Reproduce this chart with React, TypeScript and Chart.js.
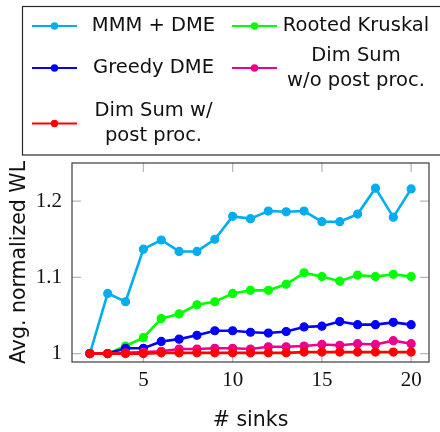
import React, { useEffect, useRef } from "react";
import { Chart, registerables } from "chart.js";

Chart.register(...registerables);

// ---- data ----
const sinks = [2, 3, 4, 5, 6, 7, 8, 9, 10, 11, 12, 13, 14, 15, 16, 17, 18, 19, 20];
const mmmDme = [1.0, 1.079, 1.068, 1.137, 1.149, 1.134, 1.134, 1.15, 1.18, 1.177, 1.187, 1.186, 1.187, 1.173, 1.173, 1.183, 1.217, 1.179, 1.216];
const rootedKruskal = [1.0, 1.0, 1.01, 1.021, 1.046, 1.052, 1.064, 1.068, 1.079, 1.083, 1.083, 1.091, 1.106, 1.101, 1.095, 1.103, 1.101, 1.104, 1.101];
const greedyDme = [1.0, 1.0, 1.007, 1.007, 1.016, 1.019, 1.024, 1.03, 1.03, 1.028, 1.027, 1.029, 1.035, 1.036, 1.042, 1.038, 1.038, 1.041, 1.038];
const dimSumWithoutPost = [1.0, 1.0, 1.001, 1.002, 1.003, 1.006, 1.006, 1.007, 1.007, 1.006, 1.009, 1.009, 1.01, 1.012, 1.011, 1.013, 1.012, 1.017, 1.013];
const dimSumWithPost = [1.0, 1.0, 1.0, 1.0, 1.001, 1.001, 1.001, 1.001, 1.001, 1.001, 1.001, 1.001, 1.002, 1.002, 1.002, 1.002, 1.002, 1.002, 1.002];

const seriesValues = [mmmDme, rootedKruskal, greedyDme, dimSumWithoutPost, dimSumWithPost];
const seriesNames = [
  ["MMM + DME"],
  ["Rooted Kruskal"],
  ["Greedy DME"],
  ["Dim Sum", "w/o post proc."],
  ["Dim Sum w/", "post proc."],
];
const seriesColors = ["rgb(0,174,239)", "rgb(0,255,0)", "rgb(0,0,255)", "rgb(236,0,140)", "rgb(255,0,0)"];

const xTickValues = [5, 10, 15, 20];
const xTickLabels = ["5", "10", "15", "20"];
const yTickValues = [1, 1.1, 1.2];
const yTickLabels = ["1", "1.1", "1.2"];
const xTitle = "# sinks";
const yTitle = "Avg. normalized WL";

// ---- styling / layout ----
const SANS = "'DejaVu Sans', sans-serif";
const SERIF = "'Liberation Serif', serif";
const TICK_LEN = 9;

const decorPlugin = {
  id: "decor",
  beforeDatasetsDraw(chart: any) {
    const { ctx, chartArea: a, scales } = chart;
    ctx.save();
    ctx.strokeStyle = "#b8b8b8";
    ctx.lineWidth = 1.3;
    ctx.beginPath();
    xTickValues.forEach((v) => {
      const px = scales.x.getPixelForValue(v);
      ctx.moveTo(px, a.bottom);
      ctx.lineTo(px, a.bottom - TICK_LEN);
      ctx.moveTo(px, a.top);
      ctx.lineTo(px, a.top + TICK_LEN);
    });
    yTickValues.forEach((v) => {
      const py = scales.y.getPixelForValue(v);
      ctx.moveTo(a.left, py);
      ctx.lineTo(a.left + TICK_LEN, py);
      ctx.moveTo(a.right, py);
      ctx.lineTo(a.right - TICK_LEN, py);
    });
    ctx.stroke();
    ctx.restore();
  },
  afterDatasetsDraw(chart: any) {
    const { ctx, chartArea: a } = chart;
    ctx.save();
    ctx.strokeStyle = "#4a4a4a";
    ctx.lineWidth = 1.3;
    ctx.strokeRect(a.left, a.top, a.right - a.left, a.bottom - a.top);
    ctx.restore();
  },
  afterDraw(chart: any) {
    const { ctx } = chart;
    ctx.save();
    // legend frame
    ctx.strokeStyle = "#2a2a2a";
    ctx.lineWidth = 1.2;
    ctx.strokeRect(22.5, 6.5, 600, 148.5);
    const markerX = [54.5, 254.5];
    const textX = [153.5, 356];
    const rowY = [26, 68, 123.5];
    const lineGap = 25;
    ctx.font = `19.5px ${SANS}`;
    ctx.textAlign = "center";
    ctx.textBaseline = "middle";
    chart.data.datasets.forEach((ds: any, i: number) => {
      const col = i % 2;
      const row = Math.floor(i / 2);
      const cy = rowY[row];
      const mx = markerX[col];
      ctx.strokeStyle = ds.borderColor;
      ctx.lineWidth = 2;
      ctx.beginPath();
      ctx.moveTo(mx - 22.5, cy);
      ctx.lineTo(mx + 22.5, cy);
      ctx.stroke();
      ctx.fillStyle = ds.borderColor;
      ctx.beginPath();
      ctx.arc(mx, cy, 3.7, 0, Math.PI * 2);
      ctx.fill();
      const lines = seriesNames[i];
      ctx.fillStyle = "#111";
      lines.forEach((t, k) => {
        const y = cy + (k - (lines.length - 1) / 2) * lineGap;
        ctx.fillText(t, textX[col], y);
      });
    });
    ctx.restore();
  },
};

export default function App() {
  const ref = useRef<HTMLCanvasElement | null>(null);

  useEffect(() => {
    if (!ref.current) return;
    const datasets = seriesValues.map((vals, i) => ({
      label: seriesNames[i].join(" "),
      data: sinks.map((x, k) => ({ x, y: vals[k] })),
      borderColor: seriesColors[i],
      backgroundColor: seriesColors[i],
      pointBackgroundColor: seriesColors[i],
      pointBorderColor: seriesColors[i],
      borderWidth: 2.6,
      pointRadius: 4,
      pointBorderWidth: 1.2,
      tension: 0,
      order: seriesValues.length - i,
    }));
    const chart = new Chart(ref.current, {
      type: "line",
      data: { datasets },
      plugins: [decorPlugin],
      options: {
        animation: false,
        responsive: false,
        devicePixelRatio: 1,
        layout: { padding: { left: 0, right: 11, top: 163, bottom: 0 } },
        plugins: { legend: { display: false }, tooltip: { enabled: false } },
        scales: {
          x: {
            type: "linear",
            min: 1,
            max: 21,
            grid: { display: false, drawTicks: false },
            border: { display: false },
            afterBuildTicks: (s: any) => {
              s.ticks = xTickValues.map((v) => ({ value: v }));
            },
            afterFit: (s: any) => {
              s.height = 70;
            },
            ticks: {
              padding: 6,
              color: "#111",
              font: { family: SERIF, size: 21 },
              maxRotation: 0,
              callback: (v: any) => xTickLabels[xTickValues.indexOf(Number(v))] ?? "",
            },
            title: {
              display: true,
              text: xTitle,
              color: "#111",
              font: { family: SANS, size: 20.5, lineHeight: 1.15 },
              padding: { top: 0, bottom: 0 },
            },
          },
          y: {
            type: "linear",
            min: 0.989,
            max: 1.25,
            grid: { display: false, drawTicks: false },
            border: { display: false },
            afterBuildTicks: (s: any) => {
              s.ticks = yTickValues.map((v) => ({ value: v }));
            },
            afterFit: (s: any) => {
              s.width = 72;
            },
            ticks: {
              padding: 10,
              color: "#111",
              font: { family: SERIF, size: 21 },
              callback: (v: any) => {
                const idx = yTickValues.findIndex((t) => Math.abs(t - Number(v)) < 1e-9);
                return idx >= 0 ? yTickLabels[idx] : "";
              },
            },
            title: {
              display: true,
              text: yTitle,
              color: "#111",
              font: { family: SANS, size: 20.5 },
              padding: { top: 7, bottom: 0 },
            },
          },
        },
      },
    } as any);
    return () => chart.destroy();
  }, []);

  return (
    <div style={{ position: "fixed", left: 0, top: 0, width: 440, height: 432, background: "#fff" }}>
      <canvas ref={ref} width={440} height={432} style={{ width: 440, height: 432, display: "block" }} />
    </div>
  );
}
